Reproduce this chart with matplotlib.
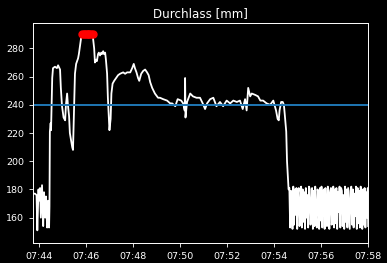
import numpy as np
import pandas as pd
import matplotlib
matplotlib.use("Agg")
import matplotlib.pyplot as plt
import matplotlib.dates as mdates

# measurement start and sample offsets in seconds
start = pd.Timestamp("2021-01-01 07:43:45")

secs = [0, 5, 9, 11, 14, 15, 18, 20, 23, 26, 28, 31, 33, 36, 38, 41, 42, 43, 45, 46,
        49, 51, 56, 61, 64, 69, 71, 74, 78, 82, 84, 87, 89, 92, 94, 100, 102, 105, 107, 110,
        115, 117, 120, 123, 125, 129, 133, 137, 140, 144, 148, 152, 156, 158, 161, 163, 166, 168, 171, 174,
        176, 179, 181, 184, 186, 189, 191, 194, 195, 198, 200, 203, 207, 212, 217, 222, 230, 235, 240, 248,
        253, 257, 260, 264, 268, 271, 276, 281, 286, 291, 295, 299, 304, 311, 319, 324, 332, 342, 350, 355,
        363, 369, 378, 383, 387, 388, 389, 393, 401, 408, 417, 426, 433, 439, 444, 452, 460, 468, 477, 485,
        494, 503, 511, 520, 528, 535, 541, 545, 549, 554, 558, 567, 574, 580, 587, 596, 605, 613, 618, 620,
        624, 627, 629, 633, 637, 640, 642, 646, 648, 652]

durchlass = [177, 177, 176, 151, 180, 172, 181, 160, 183, 154, 178, 160, 175, 153, 172, 153, 168, 221, 227, 222,
             259, 266, 267, 266, 268, 265, 252, 239, 231, 229, 240, 248, 240, 232, 220, 210, 208, 240, 262, 269,
             273, 276, 282, 288, 290, 290, 290, 290, 290, 290, 290, 290, 280, 270, 272, 271, 276, 277, 275, 277,
             276, 278, 276, 277, 272, 262, 245, 228, 222, 230, 248, 255, 257, 259, 261, 262, 263, 262, 263, 263,
             266, 269, 266, 263, 259, 257, 262, 264, 265, 263, 261, 256, 252, 248, 245, 245, 244, 243, 241, 241,
             239, 244, 243, 241, 236, 259, 231, 242, 248, 246, 245, 245, 241, 237, 241, 244, 245, 239, 242, 239,
             243, 241, 243, 242, 243, 237, 244, 236, 252, 246, 248, 247, 246, 243, 243, 241, 240, 243, 238, 236,
             230, 229, 236, 242, 242, 240, 234, 221, 200, 180]

# noisy tail after the drop
tail_secs = [654, 656, 658, 660, 662, 664, 666, 668, 670, 672,
             674, 676, 678, 680, 682, 684, 686, 688, 690, 692,
             694, 696, 698, 700, 702, 704, 706, 708, 710, 712,
             714, 716, 718, 720, 722, 724, 726, 728, 730, 732,
             734, 736, 738, 740, 742, 744, 746, 748, 750, 752,
             754, 756, 758, 760, 762, 764, 766, 768, 770, 772,
             774, 776, 778, 780, 782, 784, 786, 788, 790, 792,
             794, 796, 798, 800, 802, 804, 806, 808, 810, 812,
             814, 816, 818, 820, 822, 824, 826, 828, 830, 832,
             834, 836, 838, 840, 842, 844, 846, 848, 850, 852,
             854, 855]

tail_vals = [181, 153, 179, 168, 152, 182, 155, 180, 162, 181,
             152, 177, 181, 154, 165, 182, 153, 180, 157, 178,
             152, 181, 160, 176, 153, 182, 180, 155, 166, 181,
             152, 179, 154, 182, 161, 153, 180, 177, 152, 181,
             158, 182, 153, 175, 180, 152, 181, 163, 154, 182,
             179, 152, 176, 181, 155, 160, 182, 153, 180, 156,
             181, 152, 178, 164, 182, 153, 181, 179, 154, 176,
             152, 182, 157, 180, 153, 181, 166, 152, 179, 182,
             155, 180, 153, 177, 161, 182, 152, 181, 156, 179,
             153, 182, 170, 152, 180, 155, 181, 153, 178, 160,
             181, 154]

grenzwert = 240

t = start + pd.to_timedelta(secs + tail_secs, unit="s")
v = np.array(durchlass + tail_vals)
peak = v >= v.max()

plt.style.use("dark_background")
fig = plt.figure(figsize=(3.87, 2.63), dpi=100)
ax = fig.add_axes([0.0853, 0.076, 0.866, 0.8365])

ax.plot(t, v, color="white", lw=1.3)
ax.plot(t[peak], v[peak], "o", color="red", markersize=5)
ax.axhline(grenzwert, color="#1f77b4", lw=1.4)

ax.set_xlim(t[0], t[-1])
ax.set_ylim(142, 298)
ax.xaxis.set_major_locator(mdates.MinuteLocator(byminute=range(0, 60, 2)))
ax.xaxis.set_major_formatter(mdates.DateFormatter("%H:%M"))
ax.tick_params(labelsize=6.8, length=3, width=0.6)
for s in ax.spines.values():
    s.set_linewidth(0.7)
ax.set_title("Durchlass [mm]", fontsize=8.6, pad=4)

fig.savefig("out.png", dpi=100)
